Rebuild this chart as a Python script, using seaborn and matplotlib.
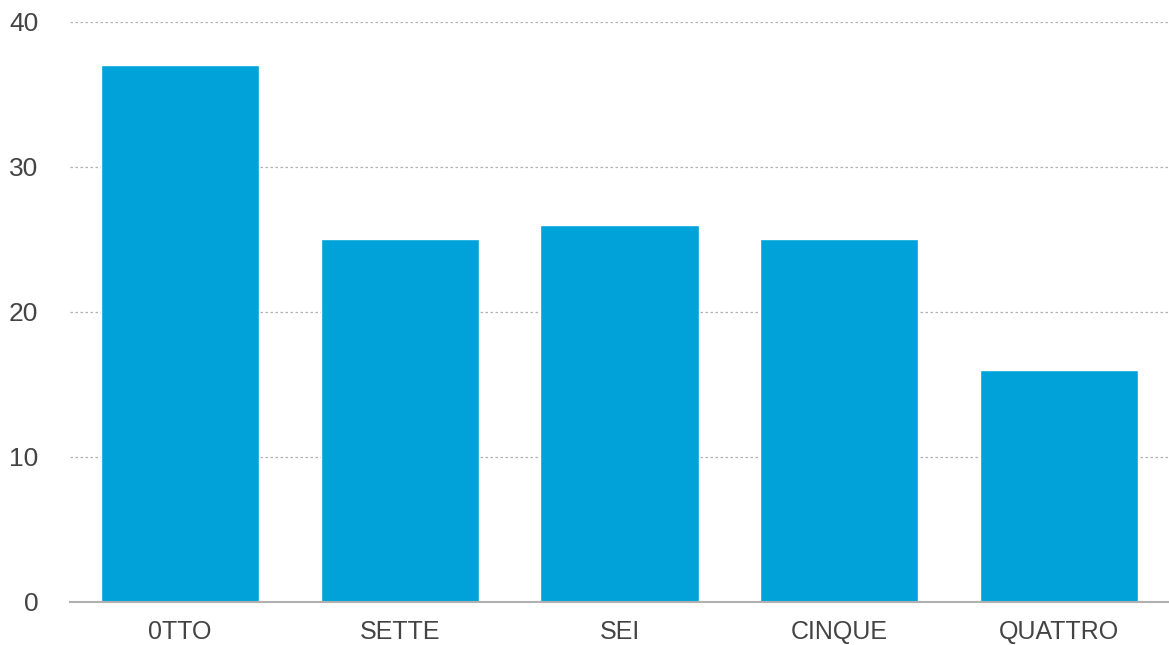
import pandas as pd
import matplotlib.pyplot as plt
import seaborn as sns

# dati del grafico
categorie = ['0TTO', 'SETTE', 'SEI', 'CINQUE', 'QUATTRO']
valori = [37, 25, 26, 25, 16]

df = pd.DataFrame({'categoria': categorie, 'valore': valori})

sns.set_theme(style="white")
plt.rcParams['font.family'] = ['Liberation Sans', 'DejaVu Sans']

fig = plt.figure(figsize=(11.69, 6.45), dpi=100)
ax = fig.add_axes([0.06, 0.0667, 0.94, 0.8993])

sns.barplot(x='categoria', y='valore', data=df, ax=ax, color='#00a3d9',
            saturation=1, width=0.72, zorder=2)

ax.set_xlim(-0.5, 4.5)
ax.set_ylim(0, 40)
ax.set_yticks([0, 10, 20, 30, 40])
ax.set_xlabel('')
ax.set_ylabel('')

ax.yaxis.grid(True, linestyle=(0, (2, 2)), color='#b0b0b0', linewidth=0.9, zorder=0)
ax.set_axisbelow(True)

for s in ['left', 'right', 'top']:
    ax.spines[s].set_visible(False)
ax.spines['bottom'].set_color('#b0b0b0')
ax.spines['bottom'].set_linewidth(1.5)

ax.tick_params(axis='y', length=0, pad=23, labelsize=19, labelcolor='#444444')
ax.tick_params(axis='x', length=0, pad=13, labelsize=18, labelcolor='#444444')

plt.savefig('out.png', dpi=100)
